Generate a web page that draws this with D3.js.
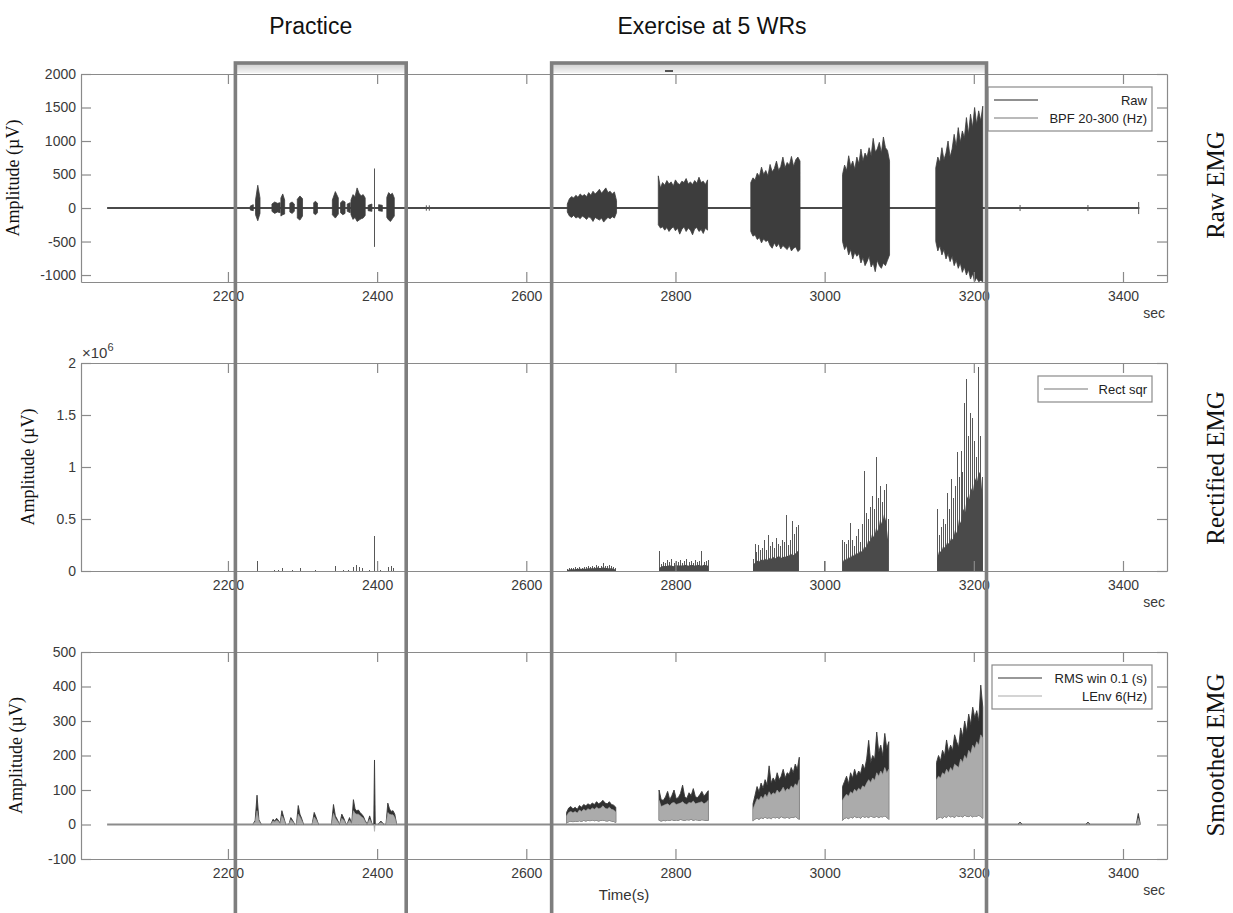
<!DOCTYPE html>
<html>
<head>
<meta charset="utf-8">
<script src="https://cdn.jsdelivr.net/npm/d3@7"></script>
<style>
body { margin: 0; background: #fff; }
svg text { font-family: "Liberation Sans", Arial, sans-serif; }
.serif { font-family: "Liberation Serif", "Times New Roman", serif !important; }
.axis path, .axis line { stroke: #8a8a8a; stroke-width: 1.2; }
.axis text { fill: #3a3a3a; font-size: 14px; }
</style>
</head>
<body>
<div id="chart"></div>
<script>
// ---- data ----
const xTicks = [2200, 2400, 2600, 2800, 3000, 3200, 3400]
const rawTicks = [-1000, -500, 0, 500, 1000, 1500, 2000]
const rectTicks = [0, 0.5, 1, 1.5, 2]        // x 10^6
const smoothTicks = [-100, 0, 100, 200, 300, 400, 500]
const recordSpan = [2038, 3422]

const sections = [
    {name: 'Practice', from: 2210, to: 2439, labelAt: 2311},
    {name: 'Exercise at 5 WRs', from: 2634, to: 3217, labelAt: 2849}
]

// raw EMG (uV): bursts sampled evenly between t0 and t1, hi / lo envelope
const rawPractice = [
    {t0: 2230, t1: 2234, hi: [30, 50], lo: [-30, -40]},
    {t0: 2237, t1: 2243, hi: [120, 340, 150], lo: [-100, -190, -80]},
    {t0: 2259, t1: 2270, hi: [60, 90, 70, 80], lo: [-50, -80, -60, -70]},
    {t0: 2271, t1: 2276, hi: [150, 210, 120], lo: [-120, -100, -90]},
    {t0: 2283, t1: 2289, hi: [70, 90, 60], lo: [-60, -80, -50]},
    {t0: 2293, t1: 2300, hi: [130, 180, 140], lo: [-150, -180, -120]},
    {t0: 2315, t1: 2320, hi: [80, 100, 70], lo: [-80, -100, -70]},
    {t0: 2340, t1: 2348, hi: [120, 245, 150], lo: [-100, -150, -90]},
    {t0: 2351, t1: 2357, hi: [80, 110, 90], lo: [-70, -100, -80]},
    {t0: 2360, t1: 2364, hi: [60, 80], lo: [-50, -70]},
    {t0: 2365, t1: 2384, hi: [120, 200, 170, 300, 220, 180, 200, 150], lo: [-100, -170, -140, -200, -180, -160, -150, -110]},
    {t0: 2388, t1: 2393, hi: [40, 60], lo: [-40, -50]},
    {t0: 2402, t1: 2407, hi: [50, 40], lo: [-40, -50]},
    {t0: 2413, t1: 2423, hi: [160, 230, 200, 220, 150], lo: [-140, -180, -200, -160, -120]}
]
const rawSpikes = [[2396.5, 590, -580], [2466, 40, -40], [2470, 40, -40], [3262, 45, -45], [3353, 45, -45], [3421, 90, -90]]

const rawExercise = [
    {t0: 2655, t1: 2721,
        hi: [60, 140, 170, 150, 190, 160, 210, 180, 200, 170, 230, 190, 250, 210, 240, 280, 220, 260, 300, 230, 250, 210, 240, 110],
        lo: [-60, -120, -140, -110, -150, -130, -160, -120, -140, -170, -130, -150, -200, -140, -160, -180, -150, -210, -170, -140, -160, -130, -150, -70]},
    {t0: 2777, t1: 2843,
        hi: [480, 300, 380, 340, 410, 360, 390, 330, 420, 370, 350, 400, 380, 440, 360, 390, 350, 410, 370, 460, 380, 400, 350, 420],
        lo: [-250, -300, -280, -330, -290, -350, -310, -280, -340, -300, -390, -320, -280, -350, -300, -330, -400, -310, -290, -350, -320, -380, -300, -330]},
    {t0: 2901, t1: 2967,
        hi: [380, 450, 420, 520, 470, 610, 500, 560, 480, 650, 540, 590, 700, 560, 620, 760, 600, 680, 640, 770, 620, 720, 760, 700],
        lo: [-350, -420, -400, -470, -440, -520, -460, -500, -480, -560, -600, -520, -580, -530, -610, -560, -590, -620, -560, -640, -600, -580, -650, -620]},
    {t0: 3024, t1: 3087,
        hi: [500, 640, 560, 780, 620, 700, 580, 760, 660, 880, 700, 820, 760, 900, 780, 1040, 840, 880, 980, 820, 1060, 900, 860, 700],
        lo: [-500, -620, -560, -700, -620, -760, -660, -720, -680, -820, -740, -860, -800, -720, -880, -820, -950, -780, -860, -900, -820, -860, -780, -700]},
    {t0: 3149, t1: 3212,
        hi: [600, 760, 680, 900, 720, 820, 1000, 760, 880, 1100, 920, 1200, 980, 1150, 1050, 1350, 1100, 1400, 1200, 1500, 1250, 1450, 1300, 1520],
        lo: [-500, -640, -560, -700, -620, -760, -680, -800, -720, -860, -780, -900, -820, -960, -880, -1000, -920, -1060, -980, -1100, -1040, -1100, -1080, -1100]}
]

// rectified squared EMG (x 10^6 uV): spikes [t, value] and bursts with body / peak
const rectSpikes = [[2240, 0.1], [2262, 0.01], [2268, 0.012], [2273, 0.03], [2286, 0.008], [2297, 0.025], [2318, 0.01],
    [2344, 0.05], [2355, 0.012], [2362, 0.01], [2368, 0.04], [2372, 0.06], [2376, 0.04], [2380, 0.03], [2390, 0.008],
    [2396.5, 0.34], [2400, 0.09], [2405, 0.005], [2415, 0.04], [2419, 0.05], [2422, 0.03], [3000, 0.1]]

const rectExercise = [
    {t0: 2655, t1: 2720,
        body: [0.01, 0.015, 0.02, 0.015, 0.02, 0.02, 0.025, 0.02, 0.025, 0.02, 0.03, 0.025, 0.03, 0.025, 0.035, 0.03, 0.03, 0.035, 0.03, 0.03, 0.025, 0.03, 0.02, 0.015],
        peak: [0.02, 0.03, 0.03, 0.025, 0.035, 0.03, 0.04, 0.03, 0.04, 0.035, 0.05, 0.04, 0.045, 0.04, 0.06, 0.05, 0.045, 0.08, 0.05, 0.045, 0.06, 0.05, 0.04, 0.03]},
    {t0: 2778, t1: 2844,
        body: [0.03, 0.04, 0.05, 0.045, 0.05, 0.055, 0.05, 0.045, 0.06, 0.05, 0.055, 0.05, 0.06, 0.055, 0.05, 0.06, 0.055, 0.05, 0.06, 0.055, 0.05, 0.06, 0.055, 0.05],
        peak: [0.19, 0.07, 0.09, 0.08, 0.11, 0.09, 0.12, 0.08, 0.1, 0.09, 0.11, 0.08, 0.1, 0.12, 0.09, 0.1, 0.08, 0.11, 0.09, 0.1, 0.19, 0.09, 0.1, 0.11]},
    {t0: 2904, t1: 2965,
        body: [0.06, 0.08, 0.1, 0.09, 0.11, 0.1, 0.12, 0.1, 0.13, 0.11, 0.14, 0.12, 0.13, 0.15, 0.12, 0.14, 0.13, 0.15, 0.14, 0.17, 0.15, 0.16, 0.18, 0.2],
        peak: [0.12, 0.26, 0.18, 0.25, 0.2, 0.22, 0.3, 0.2, 0.35, 0.24, 0.28, 0.22, 0.32, 0.26, 0.24, 0.3, 0.28, 0.54, 0.25, 0.3, 0.48, 0.36, 0.42, 0.44]},
    {t0: 3024, t1: 3085,
        body: [0.08, 0.12, 0.1, 0.14, 0.12, 0.16, 0.14, 0.18, 0.16, 0.2, 0.18, 0.24, 0.22, 0.3, 0.28, 0.36, 0.32, 0.42, 0.38, 0.5, 0.45, 0.55, 0.48, 0.3],
        peak: [0.3, 0.28, 0.26, 0.3, 0.46, 0.3, 0.24, 0.34, 0.4, 0.28, 0.45, 0.96, 0.56, 0.5, 0.62, 0.72, 0.6, 1.1, 0.7, 0.82, 0.66, 0.78, 0.84, 0.5]},
    {t0: 3151, t1: 3212,
        body: [0.12, 0.2, 0.18, 0.24, 0.22, 0.28, 0.26, 0.32, 0.3, 0.4, 0.36, 0.5, 0.46, 0.6, 0.56, 0.72, 0.68, 0.8, 0.76, 0.9, 0.85, 0.96, 0.92, 0.7],
        peak: [0.6, 0.35, 0.42, 0.5, 0.45, 0.75, 0.6, 0.88, 0.7, 0.82, 1.14, 0.9, 1.15, 0.95, 1.62, 1.85, 1.3, 1.52, 1.47, 1.25, 1.1, 1.96, 1.3, 0.9]}
]

// smoothed EMG (uV): RMS (dark) over linear envelope (light), floor = bottom of envelope band
const smoothPractice = [
    {t0: 2234, t1: 2244, rms: [2, 12, 85, 14, 3], env: [2, 8, 40, 10, 2]},
    {t0: 2258, t1: 2270, rms: [2, 15, 10, 18, 12, 3], env: [2, 10, 8, 12, 9, 2]},
    {t0: 2270, t1: 2277, rms: [3, 40, 22, 4], env: [2, 25, 16, 3]},
    {t0: 2282, t1: 2289, rms: [2, 20, 12, 3], env: [2, 14, 9, 2]},
    {t0: 2292, t1: 2301, rms: [3, 55, 30, 18, 3], env: [2, 30, 22, 12, 2]},
    {t0: 2313, t1: 2321, rms: [2, 35, 20, 3], env: [2, 22, 14, 2]},
    {t0: 2339, t1: 2349, rms: [3, 58, 25, 15, 3], env: [2, 32, 18, 10, 2]},
    {t0: 2350, t1: 2358, rms: [2, 30, 18, 3], env: [2, 18, 12, 2]},
    {t0: 2360, t1: 2366, rms: [2, 20, 3], env: [2, 12, 2]},
    {t0: 2366, t1: 2386, rms: [4, 72, 45, 40, 42, 35, 30, 24, 12, 4], env: [3, 40, 32, 30, 30, 26, 22, 18, 9, 3]},
    {t0: 2387, t1: 2393, rms: [2, 25, 3], env: [2, 15, 2]},
    {t0: 2395.5, t1: 2397.5, rms: [2, 187, 2], env: [0, -20, 0]},
    {t0: 2402, t1: 2408, rms: [2, 10, 3], env: [2, 6, 2]},
    {t0: 2412, t1: 2426, rms: [3, 62, 45, 38, 40, 30, 3], env: [2, 35, 30, 28, 28, 20, 2]},
    {t0: 3260, t1: 3264, rms: [2, 7, 2], env: [1, 4, 1]},
    {t0: 3351, t1: 3355, rms: [2, 7, 2], env: [1, 4, 1]},
    {t0: 3418, t1: 3423, rms: [2, 32, 3], env: [1, 18, 2]}
]

const smoothExercise = [
    {t0: 2654, t1: 2720,
        rms: [35, 48, 52, 45, 50, 44, 55, 50, 58, 54, 60, 56, 62, 58, 66, 60, 64, 70, 62, 60, 66, 58, 56, 50],
        env: [25, 35, 38, 34, 38, 33, 42, 38, 44, 40, 46, 42, 48, 44, 50, 46, 48, 54, 47, 45, 50, 44, 42, 36],
        floor: [4, 8, 10, 8, 10, 9, 11, 9, 12, 10, 12, 11, 13, 11, 12, 10, 12, 13, 11, 10, 12, 10, 9, 6]},
    {t0: 2778, t1: 2844,
        rms: [100, 72, 70, 80, 96, 72, 84, 100, 75, 78, 90, 114, 80, 76, 92, 84, 104, 80, 78, 86, 96, 82, 90, 98],
        env: [70, 52, 55, 58, 60, 55, 62, 64, 58, 60, 62, 66, 60, 58, 64, 62, 68, 60, 62, 64, 66, 60, 64, 70],
        floor: [12, 10, 12, 11, 13, 12, 14, 12, 13, 12, 15, 13, 12, 14, 13, 15, 12, 14, 13, 12, 14, 13, 12, 12]},
    {t0: 2904, t1: 2966,
        rms: [60, 85, 110, 95, 120, 105, 130, 115, 170, 120, 135, 125, 150, 130, 140, 160, 135, 150, 145, 165, 150, 175, 160, 195],
        env: [45, 60, 75, 70, 82, 75, 88, 80, 95, 85, 92, 88, 100, 92, 98, 108, 96, 104, 100, 112, 105, 118, 112, 130],
        floor: [10, 16, 18, 15, 20, 17, 22, 18, 20, 16, 22, 19, 21, 18, 23, 20, 19, 22, 18, 21, 20, 23, 19, 15]},
    {t0: 3024, t1: 3086,
        rms: [110, 125, 140, 118, 150, 135, 160, 140, 155, 148, 175, 160, 190, 244, 180, 200, 190, 268, 210, 230, 200, 264, 220, 240],
        env: [70, 80, 88, 82, 95, 90, 102, 96, 105, 100, 112, 108, 120, 130, 122, 135, 128, 150, 140, 155, 145, 165, 150, 160],
        floor: [12, 18, 20, 17, 22, 19, 24, 20, 22, 18, 24, 21, 23, 20, 25, 22, 21, 24, 20, 23, 22, 25, 21, 15]},
    {t0: 3150, t1: 3212,
        rms: [180, 200, 185, 215, 200, 245, 210, 230, 215, 260, 240, 225, 280, 255, 300, 270, 320, 290, 340, 310, 330, 300, 404, 340],
        env: [130, 140, 135, 150, 145, 160, 150, 165, 155, 175, 170, 165, 190, 180, 200, 190, 215, 205, 230, 220, 240, 230, 260, 250],
        floor: [14, 20, 22, 18, 24, 20, 26, 22, 24, 20, 26, 23, 25, 22, 27, 24, 23, 26, 22, 25, 24, 27, 23, 18]}
]

// ---- layout ----
const width = 1233
const height = 913
const left = 81, right = 1167

const svg = d3.select("#chart")
    .append("svg")
    .attr("width", width)
    .attr("height", height)
    .attr("viewBox", '0 0 ' + width + ' ' + height)

const x = d3.scaleLinear().domain([2003, 3459]).range([left, right])

// spread evenly sampled values of a burst over its time span
const samples = (b, key) => {
    const n = b[key].length
    return b[key].map((v, i) => [n > 1 ? b.t0 + i * (b.t1 - b.t0) / (n - 1) : b.t0, v])
}
const zip = (b, hiKey, loKey) => {
    const hi = samples(b, hiKey)
    return hi.map((p, i) => ({t: p[0], hi: p[1], lo: loKey && b[loKey] ? b[loKey][i] : 0}))
}

const drawPanel = (cfg) => {
    const y = d3.scaleLinear().domain(cfg.domain).range([cfg.y1, cfg.y0])
    const g = svg.append("g").attr("class", "panel")

    g.append("rect")
        .attr("x", left).attr("y", cfg.y0)
        .attr("width", right - left).attr("height", cfg.y1 - cfg.y0)
        .attr("fill", "#fff")

    const marks = g.append("g").attr("class", "marks")

    const axes = g.append("g")
    axes.append("g").attr("class", "axis")
        .attr("transform", "translate(0," + cfg.y1 + ")")
        .call(d3.axisBottom(x).tickValues(xTicks).tickSize(-10).tickSizeOuter(0).tickPadding(9).tickFormat(d => d))
    axes.append("g").attr("class", "axis")
        .attr("transform", "translate(0," + cfg.y0 + ")")
        .call(d3.axisTop(x).tickValues(xTicks).tickSize(-10).tickSizeOuter(0).tickFormat(""))
    axes.append("g").attr("class", "axis")
        .attr("transform", "translate(" + left + ",0)")
        .call(d3.axisLeft(y).tickValues(cfg.ticks).tickSize(-10).tickSizeOuter(0).tickPadding(5).tickFormat(d => d))
    axes.append("g").attr("class", "axis")
        .attr("transform", "translate(" + right + ",0)")
        .call(d3.axisRight(y).tickValues(cfg.ticks).tickSize(-10).tickSizeOuter(0).tickFormat(""))

    axes.append("text")
        .attr("x", right - 2).attr("y", cfg.y1 + 36)
        .attr("text-anchor", "end")
        .attr("fill", "#3a3a3a").attr("font-size", 14)
        .text("sec")

    axes.append("text")
        .attr("class", "serif")
        .attr("transform", "translate(" + cfg.labelX + "," + ((cfg.y0 + cfg.y1) / 2) + ")rotate(-90)")
        .attr("text-anchor", "middle")
        .attr("font-size", 18)
        .attr("fill", "#111")
        .text("Amplitude (\u00b5V)")

    svg.append("text")
        .attr("class", "serif")
        .attr("transform", "translate(1224," + cfg.sideY + ")rotate(-90)")
        .attr("text-anchor", "middle")
        .attr("font-size", 25)
        .attr("fill", "#111")
        .text(cfg.side)

    // legend
    const lg = g.append("g")
    const rows = cfg.legend.length
    const lw = cfg.legendW
    lg.append("rect")
        .attr("x", right - 15 - lw).attr("y", cfg.y0 + 13)
        .attr("width", lw).attr("height", 8 + rows * 18)
        .attr("fill", "#fff").attr("stroke", "#8a8a8a").attr("stroke-width", 1.2)
    cfg.legend.forEach((l, i) => {
        const yy = cfg.y0 + 26 + i * 18
        lg.append("line")
            .attr("x1", right - 15 - lw + 6).attr("x2", right - 15 - lw + 50)
            .attr("y1", yy).attr("y2", yy)
            .attr("stroke", l.color).attr("stroke-width", 1.2)
        lg.append("text")
            .attr("x", right - 15 - 5).attr("y", yy + 5)
            .attr("text-anchor", "end")
            .attr("font-size", 13).attr("fill", "#222")
            .text(l.name)
    })

    return {y, marks}
}

// ---- panel 1: raw EMG ----
const p1 = drawPanel({y0: 74, y1: 282, domain: [-1104, 2000], ticks: rawTicks, labelX: 19,
    side: "Raw EMG", sideY: 185, legendW: 164,
    legend: [{name: "Raw", color: "#222"}, {name: "BPF 20-300 (Hz)", color: "#777"}]})

p1.marks.append("line")
    .attr("x1", x(recordSpan[0])).attr("x2", x(recordSpan[1]))
    .attr("y1", p1.y(0)).attr("y2", p1.y(0))
    .attr("stroke", "#4a4a4a").attr("stroke-width", 2.2)

const rawArea = d3.area().x(d => x(d.t)).y0(d => p1.y(d.lo)).y1(d => p1.y(d.hi))
p1.marks.selectAll("path.burst")
    .data(rawPractice.concat(rawExercise))
    .join("path")
    .attr("class", "burst")
    .attr("d", b => rawArea(zip(b, "hi", "lo")))
    .attr("fill", "#3d3d3d").attr("stroke", "#3d3d3d").attr("stroke-width", 0.8)

p1.marks.selectAll("line.spike")
    .data(rawSpikes.map(s => ({t: s[0], hi: s[1], lo: s[2]})))
    .join("line")
    .attr("class", "spike")
    .attr("x1", d => x(d.t)).attr("x2", d => x(d.t))
    .attr("y1", d => p1.y(d.lo)).attr("y2", d => p1.y(d.hi))
    .attr("stroke", "#555").attr("stroke-width", 1)

// ---- panel 2: rectified squared ----
const p2 = drawPanel({y0: 363, y1: 571, domain: [0, 2], ticks: rectTicks, labelX: 34,
    side: "Rectified EMG", sideY: 468, legendW: 114,
    legend: [{name: "Rect sqr", color: "#777"}]})

p2.marks.append("text")
    .attr("x", left + 1).attr("y", 358)
    .attr("font-size", 15).attr("fill", "#3a3a3a")
    .text("\u00d710")
    .append("tspan").attr("dy", -7).attr("font-size", 11).text("6")

p2.marks.selectAll("line.peak")
    .data(rectExercise.flatMap(b => zip(b, "peak")).concat(rectSpikes.map(s => ({t: s[0], hi: s[1], lo: 0}))))
    .join("line")
    .attr("class", "peak")
    .attr("x1", d => x(d.t)).attr("x2", d => x(d.t))
    .attr("y1", p2.y(0)).attr("y2", d => p2.y(d.hi))
    .attr("stroke", "#585858").attr("stroke-width", 1)
    .attr("shape-rendering", "crispEdges")

const rectArea = d3.area().x(d => x(d.t)).y0(p2.y(0)).y1(d => p2.y(d.hi))
p2.marks.selectAll("path.body")
    .data(rectExercise)
    .join("path")
    .attr("class", "body")
    .attr("d", b => rectArea(zip(b, "body")))
    .attr("fill", "#4a4a4a")

// ---- panel 3: smoothed ----
const p3 = drawPanel({y0: 652, y1: 859, domain: [-100, 500], ticks: smoothTicks, labelX: 22,
    side: "Smoothed EMG", sideY: 755, legendW: 160,
    legend: [{name: "RMS win 0.1 (s)", color: "#333"}, {name: "LEnv 6(Hz)", color: "#aaa"}]})

p3.marks.append("line")
    .attr("x1", x(recordSpan[0])).attr("x2", x(recordSpan[1]))
    .attr("y1", p3.y(0)).attr("y2", p3.y(0))
    .attr("stroke", "#8c8c8c").attr("stroke-width", 1.8)

const smoothBursts = smoothPractice.concat(smoothExercise)
const rmsArea = d3.area().x(d => x(d.t)).y0(d => p3.y(d.lo)).y1(d => p3.y(d.hi))
p3.marks.selectAll("path.rms")
    .data(smoothBursts)
    .join("path")
    .attr("class", "rms")
    .attr("d", b => rmsArea(zip(b, "rms", "floor")))
    .attr("fill", "#2f2f2f").attr("stroke", "#3a3a3a").attr("stroke-width", 0.9)

p3.marks.selectAll("path.env")
    .data(smoothBursts)
    .join("path")
    .attr("class", "env")
    .attr("d", b => rmsArea(zip(b, "env", "floor")))
    .attr("fill", "#ababab").attr("stroke", "#a5a5a5").attr("stroke-width", 0.6)

svg.append("text")
    .attr("x", 624).attr("y", 900)
    .attr("text-anchor", "middle")
    .attr("font-size", 15).attr("fill", "#333")
    .text("Time(s)")

// ---- section boxes ----
const defs = svg.append("defs")
const grad = defs.append("linearGradient").attr("id", "band").attr("x1", 0).attr("x2", 0).attr("y1", 0).attr("y2", 1)
grad.append("stop").attr("offset", "0%").attr("stop-color", "#d0d0d0")
grad.append("stop").attr("offset", "100%").attr("stop-color", "#f4f4f4")

const boxes = svg.append("g").attr("class", "sections")
boxes.selectAll("rect.band")
    .data(sections)
    .join("rect")
    .attr("class", "band")
    .attr("x", d => x(d.from)).attr("y", 64)
    .attr("width", d => x(d.to) - x(d.from)).attr("height", 9)
    .attr("fill", "url(#band)")
boxes.selectAll("rect.frame")
    .data(sections)
    .join("rect")
    .attr("class", "frame")
    .attr("x", d => x(d.from)).attr("y", 63)
    .attr("width", d => x(d.to) - x(d.from)).attr("height", height)
    .attr("fill", "none").attr("stroke", "#7e7e7e").attr("stroke-width", 3.6)
boxes.selectAll("text")
    .data(sections)
    .join("text")
    .attr("x", d => x(d.labelAt)).attr("y", 34)
    .attr("text-anchor", "middle")
    .attr("font-size", 23).attr("fill", "#111")
    .text(d => d.name)
boxes.append("line")
    .attr("x1", 665).attr("x2", 673).attr("y1", 71).attr("y2", 71)
    .attr("stroke", "#222").attr("stroke-width", 1.5)
</script>
</body>
</html>
